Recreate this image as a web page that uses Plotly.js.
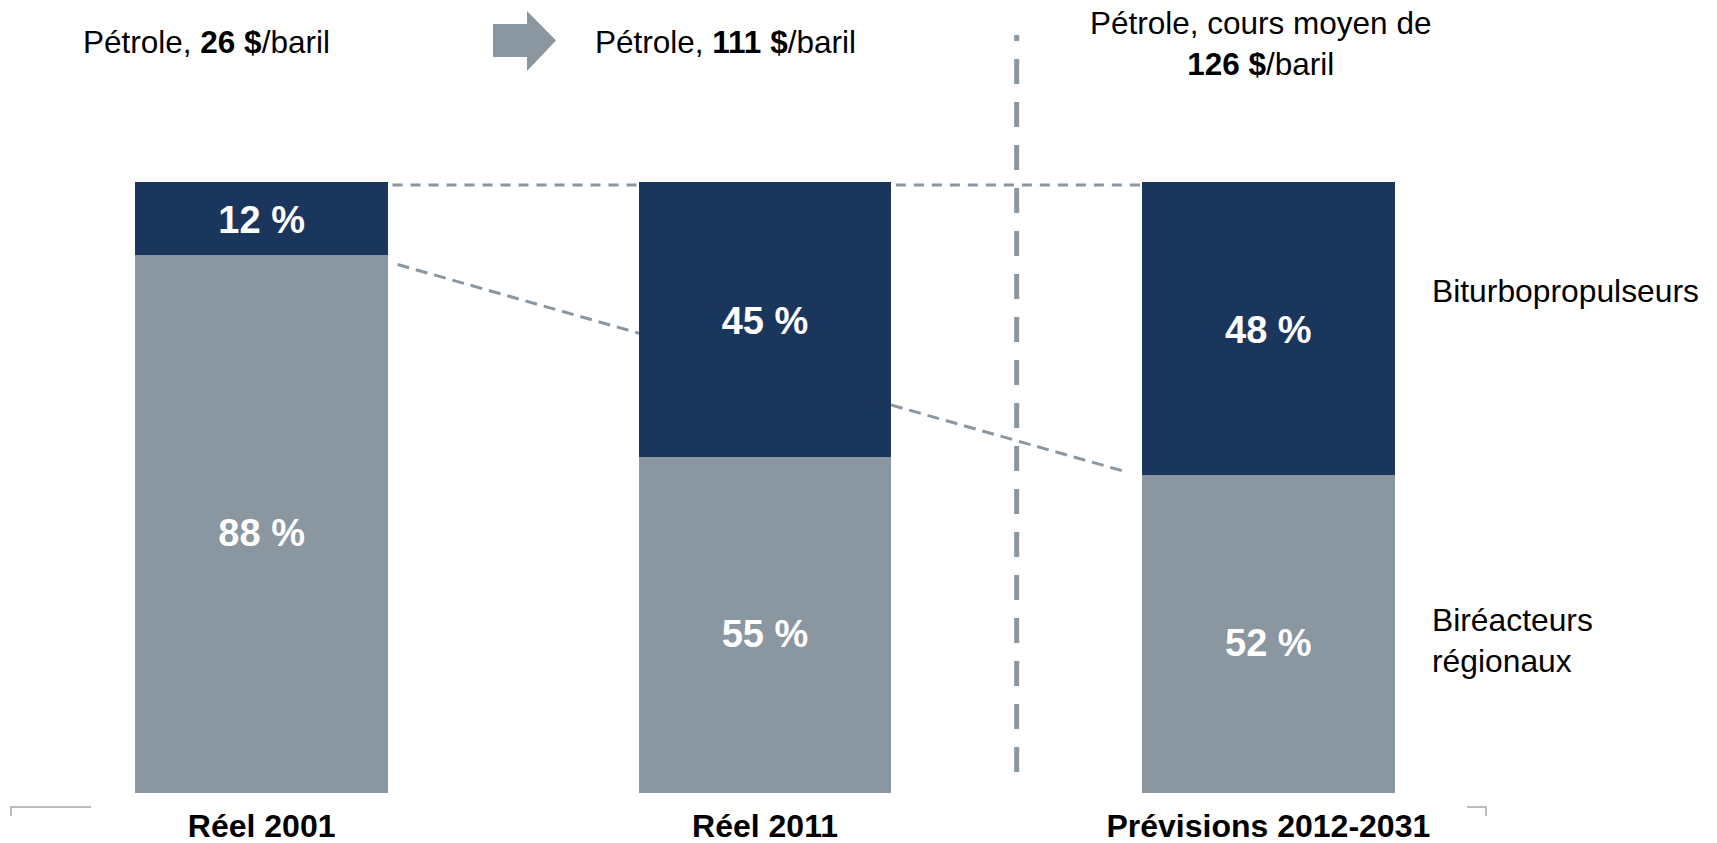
<!DOCTYPE html>
<html>
<head>
<meta charset="utf-8">
<script src="https://cdn.plot.ly/plotly-3.0.1.min.js"></script>
<style>html,body{margin:0;padding:0;background:#fff;}#chart{width:1717px;height:843px;}</style>
</head>
<body>
<div id="chart"></div>
<script>
// ---- Data ----
const categories = ['Réel 2001', 'Réel 2011', 'Prévisions 2012-2031'];
const biReacteurs = [88, 55, 52];      // Biréacteurs régionaux (%)
const biTurbo = [12, 45, 48];          // Biturbopropulseurs (%)
const prixPetrole = [26, 111, 126];    // $/baril
const seriesNames = ['Biréacteurs<br>régionaux', 'Biturbopropulseurs'];

// ---- Layout helpers ----
const W = 1717, H = 843;
const M = {l: 10, r: 197, t: 182, b: 50};
const PW = W - M.l - M.r, PH = H - M.t - M.b;
const px = x => (x - M.l) / PW;
const py = y => (H - M.b - y) / PH;

const NAVY = '#1b365d';
const GRAY = '#8a96a0';
const FONT = 'Liberation Sans, Arial, sans-serif';
const xs = categories.map((c, i) => i);

const labelFont = {color: '#ffffff', size: 38, family: FONT};
const traces = [
  {
    type: 'bar', x: xs, y: biReacteurs, name: 'Biréacteurs régionaux',
    marker: {color: GRAY}, hoverinfo: 'none'
  },
  {
    type: 'bar', x: xs, y: biTurbo, name: 'Biturbopropulseurs',
    marker: {color: NAVY}, hoverinfo: 'none'
  },
  // value labels, centred in each segment (slightly lowered as in the original)
  {
    type: 'scatter', mode: 'text', x: xs,
    y: biReacteurs.map(v => v / 2 - 2),
    text: biReacteurs.map(v => `<b>${v} %</b>`),
    textposition: 'middle center', textfont: labelFont, hoverinfo: 'none', cliponaxis: false
  },
  {
    type: 'scatter', mode: 'text', x: xs,
    y: biReacteurs.map((v, i) => v + biTurbo[i] / 2 - 0.8),
    text: biTurbo.map(v => `<b>${v} %</b>`),
    textposition: 'middle center', textfont: labelFont, hoverinfo: 'none', cliponaxis: false
  }
];

const dashGray = '#8a96a0';
const shapes = [
  // horizontal dashed connectors at top
  {type: 'line', xref: 'x', yref: 'y', x0: 0.26, x1: 0.745, y0: 99.5, y1: 99.5,
   line: {color: dashGray, width: 3, dash: '10px,8px'}, layer: 'below'},
  {type: 'line', xref: 'x', yref: 'y', x0: 1.26, x1: 1.745, y0: 99.5, y1: 99.5,
   line: {color: dashGray, width: 3, dash: '10px,8px'}, layer: 'below'},
  // diagonal dashed connector (behind middle bar)
  {type: 'line', xref: 'x', yref: 'y', x0: 0.27, x1: 1.72, y0: 86.5, y1: 52.5,
   line: {color: dashGray, width: 3, dash: '12px,7px'}, layer: 'below'},
  // vertical dashed separator
  {type: 'line', xref: 'x', yref: 'paper', x0: 1.5, x1: 1.5, y0: py(772), y1: py(35),
   line: {color: dashGray, width: 5, dash: '25px,18px'}, layer: 'below'},
  // arrow
  {type: 'path', xref: 'paper', yref: 'paper',
   path: `M ${px(493)},${py(24)} L ${px(527)},${py(24)} L ${px(527)},${py(11)} L ${px(556)},${py(40.5)} L ${px(527)},${py(71)} L ${px(527)},${py(57)} L ${px(493)},${py(57)} Z`,
   fillcolor: GRAY, line: {width: 0}},
  // corner brackets
  {type: 'path', xref: 'paper', yref: 'paper',
   path: `M ${px(11)},${py(816)} L ${px(11)},${py(807)} L ${px(91)},${py(807)}`,
   line: {color: '#a6a6a6', width: 1.5}},
  {type: 'path', xref: 'paper', yref: 'paper',
   path: `M ${px(1467)},${py(807)} L ${px(1486)},${py(807)} L ${px(1486)},${py(816)}`,
   line: {color: '#a6a6a6', width: 1.5}}
];

const annFont = {family: FONT, size: 31.5, color: '#000000'};
const annotations = [
  {xref: 'paper', yref: 'paper', x: px(206), y: py(42), xanchor: 'center', yanchor: 'middle',
   text: `Pétrole, <b>${prixPetrole[0]} $</b>/baril`, showarrow: false, font: annFont},
  {xref: 'paper', yref: 'paper', x: px(725), y: py(42), xanchor: 'center', yanchor: 'middle',
   text: `Pétrole, <b>${prixPetrole[1]} $</b>/baril`, showarrow: false, font: annFont},
  {xref: 'paper', yref: 'paper', x: px(1260), y: py(44), xanchor: 'center', yanchor: 'middle',
   text: `Pétrole, cours moyen de<br><b>${prixPetrole[2]} $</b>/baril`, showarrow: false, font: annFont, align: 'center'},
  {xref: 'paper', yref: 'paper', x: px(1430), y: py(291), xanchor: 'left', yanchor: 'middle',
   text: seriesNames[1], showarrow: false, font: {family: FONT, size: 31.8, color: '#000000'}, align: 'left'},
  {xref: 'paper', yref: 'paper', x: px(1430), y: py(640), xanchor: 'left', yanchor: 'middle',
   text: seriesNames[0], showarrow: false, font: {family: FONT, size: 31.8, color: '#000000'}, align: 'left'}
];

const layout = {
  width: W, height: H,
  margin: M,
  paper_bgcolor: '#ffffff', plot_bgcolor: '#ffffff',
  barmode: 'stack', bargap: 0.4975,
  showlegend: false,
  font: {family: FONT},
  xaxis: {
    range: [-0.5, 2.5], tickvals: xs,
    ticktext: categories.map(c => '<b>' + c + '</b>'),
    tickfont: {family: FONT, size: 32, color: '#000000'},
    showgrid: false, zeroline: false, showline: false, ticks: '',
    ticklabelstandoff: 11, fixedrange: true
  },
  yaxis: {
    range: [0, 100], visible: false, showgrid: false, zeroline: false, fixedrange: true
  },
  shapes: shapes,
  annotations: annotations
};

Plotly.newPlot('chart', traces, layout, {displayModeBar: false, staticPlot: true});
</script>
</body>
</html>
